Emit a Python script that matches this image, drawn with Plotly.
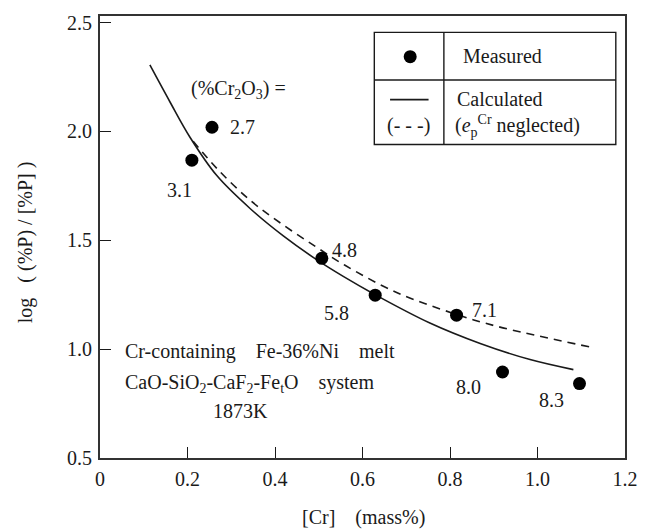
import plotly.graph_objects as go

# Measured data: [Cr] (mass%), log((%P)/[%P]), (%Cr2O3) label
cr_meas = [0.256, 0.210, 0.507, 0.629, 0.815, 0.920, 1.096]
logp_meas = [2.019, 1.868, 1.417, 1.248, 1.156, 0.895, 0.842]
cr2o3_labels = ["2.7", "3.1", "4.8", "5.8", "7.1", "8.0", "8.3"]
label_dx = [30, -12, 23, -39, 28, -34, -28]
label_dy = [0, -30, 8, -18, 5, -15, -16]

# Calculated curve (solid)
cr_calc = [0.114, 0.160, 0.206, 0.267, 0.343, 0.419, 0.495, 0.556, 0.629, 0.754, 0.869, 0.983, 1.082]
logp_calc = [2.305, 2.135, 1.972, 1.797, 1.646, 1.520, 1.411, 1.334, 1.250, 1.120, 1.026, 0.952, 0.906]

# Calculated, e_p^Cr neglected (dashed)
cr_neg = [0.213, 0.267, 0.343, 0.419, 0.495, 0.560, 0.678, 0.814, 0.907, 1.120]
logp_neg = [1.955, 1.830, 1.684, 1.570, 1.468, 1.385, 1.260, 1.160, 1.105, 1.010]

x_ticks = [0, 0.2, 0.4, 0.6, 0.8, 1.0, 1.2]
x_ticktext = ["0", "0.2", "0.4", "0.6", "0.8", "1.0", "1.2"]
y_ticks = [0.5, 1.0, 1.5, 2.0, 2.5]
y_ticktext = ["0.5", "1.0", "1.5", "2.0", "2.5"]

FONT = "Liberation Serif, Times New Roman, Noto Serif, DejaVu Serif, serif"
INK = "#1a1a1a"

fig = go.Figure()
fig.add_trace(go.Scatter(x=cr_calc, y=logp_calc, mode="lines", line=dict(color=INK, width=1.6, shape="spline"),
                         showlegend=False, hoverinfo="skip"))
fig.add_trace(go.Scatter(x=cr_neg, y=logp_neg, mode="lines",
                         line=dict(color=INK, width=1.6, shape="spline", dash="8px,6px"),
                         showlegend=False, hoverinfo="skip"))
fig.add_trace(go.Scatter(x=cr_meas, y=logp_meas, mode="markers", marker=dict(color="black", size=13),
                         showlegend=False, hoverinfo="skip"))

annotations = []
for x, y, t, dx, dy in zip(cr_meas, logp_meas, cr2o3_labels, label_dx, label_dy):
    annotations.append(dict(x=x, y=y, xref="x", yref="y", text=t, showarrow=False, xshift=dx, yshift=dy,
                            font=dict(family=FONT, size=20, color=INK)))

def ann(x, y, text, xanchor="left", size=20, **kw):
    annotations.append(dict(x=x, y=y, xref="x", yref="y", text=text, showarrow=False, xanchor=xanchor,
                            yanchor="middle", font=dict(family=FONT, size=size, color=INK), **kw))

ann(0.203, 2.194, "(%Cr<sub>2</sub>O<sub>3</sub>) =")
ann(0.052, 0.987, "Cr-containing&nbsp;&nbsp;&nbsp;&nbsp;Fe-36%Ni&nbsp;&nbsp;&nbsp;&nbsp;melt")
ann(0.052, 0.840, "CaO-SiO<sub>2</sub>-CaF<sub>2</sub>-Fe<sub>t</sub>O&nbsp;&nbsp;&nbsp;&nbsp;system")
ann(0.322, 0.715, "1873K", xanchor="center")

# legend box content
ann(0.826, 2.345, "Measured")
ann(0.812, 2.150, "Calculated")
ann(0.806, 2.025, "(<i>e</i><sub>p</sub><sup>Cr</sup> neglected)")
ann(0.706, 2.025, "(- - -)", xanchor="center")

# axis titles (paper coordinates)
annotations.append(dict(x=-0.143, y=0.488, xref="paper", yref="paper",
                        text="log&nbsp;&nbsp;&nbsp;( (%P) / [%P] )", textangle=-90, showarrow=False,
                        xanchor="center", yanchor="middle", font=dict(family=FONT, size=20, color=INK)))
annotations.append(dict(x=0.501, y=-0.135, xref="paper", yref="paper",
                        text="[Cr]&nbsp;&nbsp;&nbsp;&nbsp;(mass%)", showarrow=False,
                        xanchor="center", yanchor="middle", font=dict(family=FONT, size=20, color=INK)))

shapes = []
lw = 1.4
bx0, bx1, by0, by1, bxdiv, bymid = 0.627, 1.179, 1.940, 2.455, 0.786, 2.236
shapes.append(dict(type="rect", xref="x", yref="y", x0=bx0, x1=bx1, y0=by0, y1=by1,
                   line=dict(color=INK, width=lw), fillcolor="white", layer="below"))
shapes.append(dict(type="line", xref="x", yref="y", x0=bx0, x1=bx1, y0=bymid, y1=bymid,
                   line=dict(color=INK, width=lw)))
shapes.append(dict(type="line", xref="x", yref="y", x0=bxdiv, x1=bxdiv, y0=by0, y1=by1,
                   line=dict(color=INK, width=lw)))
shapes.append(dict(type="line", xref="x", yref="y", x0=0.663, x1=0.751, y0=2.146, y1=2.146,
                   line=dict(color=INK, width=1.6)))

# legend marker sample
fig.add_trace(go.Scatter(x=[0.709], y=[2.343], mode="markers", marker=dict(color="black", size=13),
                         showlegend=False, hoverinfo="skip"))

fig.update_layout(
    width=651, height=529,
    margin=dict(l=100, r=26, t=16, b=71),
    paper_bgcolor="white", plot_bgcolor="white",
    showlegend=False,
    annotations=annotations,
    shapes=shapes,
    font=dict(family=FONT, size=20, color=INK),
)
fig.update_xaxes(range=[0, 1.2], tickvals=x_ticks, ticktext=x_ticktext, ticks="inside", ticklen=11, tickwidth=1.4,
                 tickcolor=INK, showline=True, linecolor="#333", linewidth=1.8, mirror=True, showgrid=False,
                 zeroline=False, tickfont=dict(family=FONT, size=20, color=INK), ticklabelstandoff=2)
fig.update_yaxes(range=[0.5, 2.53], tickvals=y_ticks, ticktext=y_ticktext, ticks="inside", ticklen=11, tickwidth=1.4,
                 tickcolor=INK, showline=True, linecolor="#333", linewidth=1.8, mirror=True, showgrid=False,
                 zeroline=False, tickfont=dict(family=FONT, size=20, color=INK), ticklabelstandoff=2)

fig.write_html("out.html")
